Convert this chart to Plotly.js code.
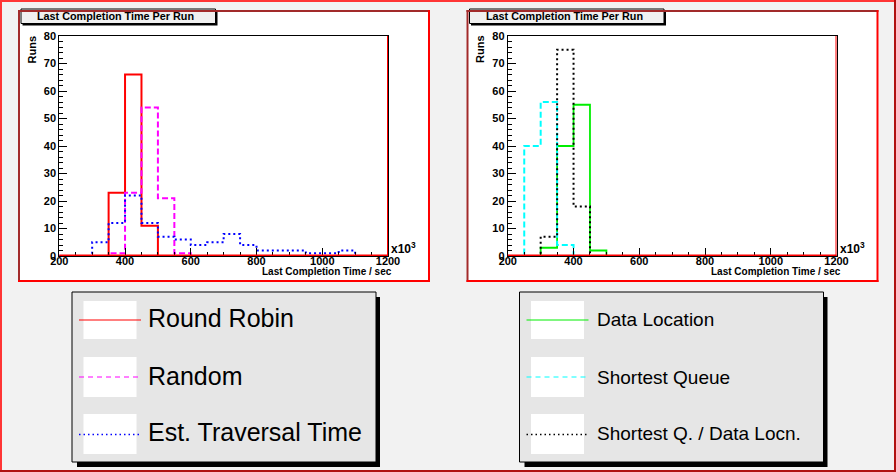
<!DOCTYPE html>
<html>
<head>
<meta charset="utf-8">
<script src="https://cdn.plot.ly/plotly-3.0.1.min.js"></script>
<style>
  html, body { margin: 0; padding: 0; background: #f2f2f2; }
  #myDiv { width: 896px; height: 472px; }
</style>
</head>
<body>
<div id="myDiv"></div>
<script>
// Histograms: 20 bins of 50 (x10^3 sec) from 200 to 1200
const binStart = 200;
const binWidth = 50;
const xRange = [200, 1200];
const yRange = [0, 80];
const xMajor = 200, xMinor = 50;
const yMajor = 10, yMinor = 2;

const panelTitle = 'Last Completion Time Per Run';
const xTitle = 'Last Completion Time / sec';
const yTitle = 'Runs';

// Left panel
const leftNames = ['Round Robin', 'Random', 'Est. Traversal Time'];
const roundRobin    = [0, 0, 0, 23, 66, 11, 0, 0, 0, 0, 0, 0, 0, 0, 0, 0, 0, 0, 0, 0];
const randomSel     = [0, 0, 0, 1, 23, 54, 21, 1, 0, 0, 0, 0, 0, 0, 0, 0, 0, 0, 0, 0];
const estTraversal  = [0, 0, 5, 12, 22, 12, 7, 6, 4, 5, 8, 4, 2, 2, 2, 1, 1, 2, 0, 0];

// Right panel
const rightNames = ['Data Location', 'Shortest Queue', 'Shortest Q. / Data Locn.'];
const dataLocation  = [0, 0, 3, 40, 55, 2, 0, 0, 0, 0, 0, 0, 0, 0, 0, 0, 0, 0, 0, 0];
const shortestQueue = [0, 40, 56, 4, 0, 0, 0, 0, 0, 0, 0, 0, 0, 0, 0, 0, 0, 0, 0, 0];
const shortestQData = [0, 0, 7, 75, 18, 0, 0, 0, 0, 0, 0, 0, 0, 0, 0, 0, 0, 0, 0, 0];

const W = 896, H = 472;
const DX = 448.5; // offset of the right panel

function px(x) { return x / W; }
function py(y) { return 1 - y / H; }

// step outline like ROOT draws a TH1
function stepTrace(values, color, dash, width, xa, ya) {
    let x = values.map((_, i) => binStart + i * binWidth);
    x.push(binStart + values.length * binWidth);
    let y = values.concat([values[values.length - 1]]);
    return {
        x: x, y: y, xaxis: xa, yaxis: ya,
        mode: 'lines', type: 'scatter',
        line: { shape: 'hv', color: color, dash: dash, width: width },
        hoverinfo: 'none', showlegend: false
    };
}

const sans = 'Liberation Sans, Arial, sans-serif';
const tickFont = { family: sans, size: 11, weight: 'bold', color: '#000' };

function makeXAxis(x0, x1, anchor) {
    return {
        domain: [px(x0), px(x1)], anchor: anchor,
        range: xRange, tick0: xRange[0], dtick: xMajor,
        ticks: 'inside', ticklen: 8, tickwidth: 1, tickcolor: '#000',
        minor: { dtick: xMinor, ticks: 'inside', ticklen: 4, tickcolor: '#000', showgrid: false },
        showline: true, linecolor: '#000', linewidth: 1, mirror: true,
        showgrid: false, zeroline: false, tickfont: tickFont,
        ticklabelstandoff: -5, fixedrange: true
    };
}

function makeYAxis(anchor) {
    return {
        domain: [py(256), py(36)], anchor: anchor,
        range: yRange, tick0: 0, dtick: yMajor,
        ticks: 'inside', ticklen: 8, tickwidth: 1, tickcolor: '#000',
        minor: { dtick: yMinor, ticks: 'inside', ticklen: 4, tickcolor: '#000', showgrid: false },
        showline: true, linecolor: '#000', linewidth: 1, mirror: true,
        showgrid: false, zeroline: false, tickfont: tickFont, fixedrange: true
    };
}

let shapes = [];
let annotations = [];

function rect(x0, y0, x1, y1, fill, lineColor, lineWidth) {
    shapes.push({
        type: 'rect', xref: 'paper', yref: 'paper', layer: 'below',
        x0: px(x0), y0: py(y0), x1: px(x1), y1: py(y1),
        fillcolor: fill, line: { color: lineColor || 'rgba(0,0,0,0)', width: lineWidth || 0 }
    });
}

function seg(x0, y0, x1, y1, color, width, dash) {
    shapes.push({
        type: 'line', xref: 'paper', yref: 'paper', layer: 'below',
        x0: px(x0), y0: py(y0), x1: px(x1), y1: py(y1),
        line: { color: color, width: width, dash: dash || 'solid' }
    });
}

function label(text, x, y, size, opts) {
    annotations.push(Object.assign({
        text: text, xref: 'paper', yref: 'paper', x: px(x), y: py(y),
        xanchor: 'center', yanchor: 'middle', showarrow: false,
        font: { family: sans, size: size, color: '#000' }
    }, opts || {}));
}

// canvas border
seg(0, 1, W, 1, '#ff3535', 2);
seg(1, 0, 1, H, '#ff3535', 2);
seg(0, 471, W, 471, '#b01010', 2);
seg(895, 0, 895, H, '#b01010', 2);

function panel(dx, xa, ya) {
    rect(18 + dx, 10, 430 + dx, 282, '#ffffff');
    // title box with shadow
    rect(22.5 + dx, 11, 217.5 + dx, 25.5, '#000000');
    rect(21 + dx, 9, 215.5 + dx, 23.5, '#f0f0f0', '#000000', 1);
    seg(19 + dx, 10, 19 + dx, 282, '#a22a2a', 2);
    seg(18 + dx, 11, 430 + dx, 11, '#a22a2a', 2);
    seg(429 + dx, 10, 429 + dx, 282, '#ff0000', 2);
    seg(18 + dx, 281, 430 + dx, 281, '#ff0000', 2);

    label('<b>' + panelTitle + '</b>', 115.5 + dx, 16.5, 10.8);
    label('<b>' + xTitle + '</b>', 394 + dx, 271.5, 10, { xanchor: 'right' });
    label('<b>x10<sup>3</sup></b>', 389 + dx, 247.5, 12, { xanchor: 'left' });
    label('<b>' + yTitle + '</b>', 31 + dx, 49.5, 11, { textangle: -90 });

    // red frame histogram: right edge and empty baseline
    shapes.push({
        type: 'line', xref: xa, yref: ya + ' domain', layer: 'above',
        x0: xRange[1], x1: xRange[1], y0: 0, y1: 1,
        line: { color: '#ff0000', width: 2 }
    });
    shapes.push({
        type: 'line', xref: xa + ' domain', yref: ya, layer: 'above',
        x0: 0, x1: 1, y0: 0.25, y1: 0.25,
        line: { color: '#ff0000', width: 1.5 }
    });
}

function legendBox(x0, names, colors, textSize, textX, rows) {
    const dashes = ['solid', '5px,4px', '1.5px,3px'];
    rect(x0 + 5, 297, x0 + 308, 467, '#000000');
    rect(x0, 292, x0 + 304, 462, '#e6e6e6', '#000000', 1);
    const boxes = [[301, 339], [357, 397], [414, 454]];
    const lines = [320, 377, 434.5];
    for (let i = 0; i < 3; i++) {
        rect(x0 + 11.5, boxes[i][0], x0 + 64.5, boxes[i][1], '#ffffff');
        seg(x0 + 7, lines[i], x0 + 69, lines[i], colors[i], i === 2 ? 1.5 : 1, dashes[i]);
        label(names[i], textX, rows[i], textSize, { xanchor: 'left' });
    }
}

const leftColors = ['#ff0000', '#ff00ff', '#0000ff'];
const rightColors = ['#00ee00', '#00ffff', '#000000'];

panel(0, 'x', 'y');
panel(DX, 'x2', 'y2');
legendBox(72, leftNames, leftColors, 25, 146, [318, 375.5, 432]);
legendBox(519.5, rightNames, rightColors, 19, 594.5, [319, 377, 433]);

let traces = [
    stepTrace(roundRobin, leftColors[0], 'solid', 2, 'x', 'y'),
    stepTrace(randomSel, leftColors[1], '6px,3px', 2, 'x', 'y'),
    stepTrace(estTraversal, leftColors[2], '2px,3px', 2, 'x', 'y'),
    stepTrace(dataLocation, rightColors[0], 'solid', 1.8, 'x2', 'y2'),
    stepTrace(shortestQueue, rightColors[1], '6px,3px', 2, 'x2', 'y2'),
    stepTrace(shortestQData, rightColors[2], '2px,3px', 2, 'x2', 'y2')
];

let layout = {
    width: W, height: H,
    margin: { l: 0, r: 0, t: 0, b: 0 },
    paper_bgcolor: '#f2f2f2',
    plot_bgcolor: '#ffffff',
    showlegend: false,
    xaxis: makeXAxis(59.3, 388, 'y'),
    yaxis: makeYAxis('x'),
    xaxis2: makeXAxis(59.3 + DX, 388 + DX, 'y2'),
    yaxis2: makeYAxis('x2'),
    shapes: shapes,
    annotations: annotations
};

Plotly.newPlot('myDiv', traces, layout, { displayModeBar: false, staticPlot: true });
</script>
</body>
</html>
